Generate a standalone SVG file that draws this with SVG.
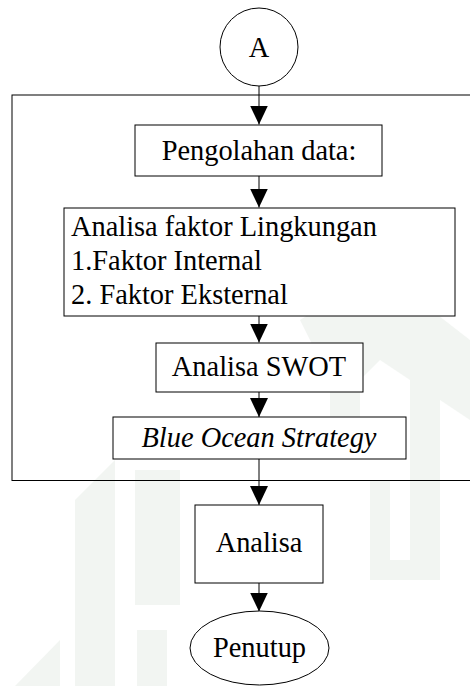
<svg xmlns="http://www.w3.org/2000/svg" width="470" height="686" viewBox="0 0 470 686">
<style>
.box{fill:#fff;stroke:#000;stroke-width:1}
.c{text-anchor:middle}
.ln{stroke:#000;stroke-width:1;fill:none}
.wm{fill:#e6ece6;opacity:0.5}
</style>
<defs>
<marker id="ah" viewBox="0 0 19 18" refX="19" refY="9" markerWidth="19" markerHeight="18" markerUnits="userSpaceOnUse" orient="auto">
<path d="M0,0 L19,9 L0,18 Z" fill="#000"/>
</marker>
</defs>
<rect width="470" height="686" fill="#fff"/>
<g id="watermark">
<polygon class="wm" points="75,500 115,460 115,686 75,686"/>
<rect class="wm" x="135" y="470" width="45" height="135"/>
<rect class="wm" x="137" y="630" width="30" height="56"/>
<polygon class="wm" points="300,320 380,270 470,340 470,420 440,400 440,560 410,560 410,380 380,360 360,380 360,440 330,440 330,380"/>
<polygon class="wm" points="370,480 390,480 390,560 440,560 440,580 370,580"/>
<polygon class="wm" points="15,686 60,640 60,686"/>
</g>
<g id="container"><rect x="12" y="95" width="470" height="385.5" fill="none" stroke="#000" stroke-width="1"/></g>
<g id="connectors">
<line class="ln" x1="259" y1="86" x2="259" y2="124.5" marker-end="url(#ah)"/>
<line class="ln" x1="259" y1="176" x2="259" y2="207.5" marker-end="url(#ah)"/>
<line class="ln" x1="259" y1="316" x2="259" y2="342.5" marker-end="url(#ah)"/>
<line class="ln" x1="259" y1="392" x2="259" y2="417" marker-end="url(#ah)"/>
<line class="ln" x1="259" y1="459" x2="259" y2="505" marker-end="url(#ah)"/>
<line class="ln" x1="259" y1="583" x2="259" y2="611.5" marker-end="url(#ah)"/>
</g>
<g font-family="Liberation Serif, Times New Roman, serif" font-size="28.4" fill="#000">
<g id="nodeA"><circle class="box" cx="259" cy="47" r="39"/><text class="c" x="259" y="57">A</text></g>
<g id="pengolahan"><rect class="box" x="135" y="125" width="247" height="51"/><text class="c" x="259" y="160">Pengolahan data:</text></g>
<g id="faktor"><rect class="box" x="64" y="208" width="391" height="108"/>
<text x="71" y="236">Analisa faktor Lingkungan</text>
<text x="71" y="270">1.Faktor Internal</text>
<text x="71" y="303.5">2. Faktor Eksternal</text></g>
<g id="swot"><rect class="box" x="156" y="343" width="207" height="49"/><text class="c" x="259" y="376">Analisa SWOT</text></g>
<g id="blueocean"><rect class="box" x="113" y="417" width="293" height="42"/><text class="c" x="259" y="447" font-style="italic">Blue Ocean Strategy</text></g>
<g id="analisa"><rect class="box" x="195" y="505" width="128" height="78"/><text class="c" x="259" y="552">Analisa</text></g>
<g id="penutup"><ellipse class="box" cx="259.5" cy="648" rx="69.5" ry="37"/><text class="c" x="259.5" y="657">Penutup</text></g>
</g>
</svg>
